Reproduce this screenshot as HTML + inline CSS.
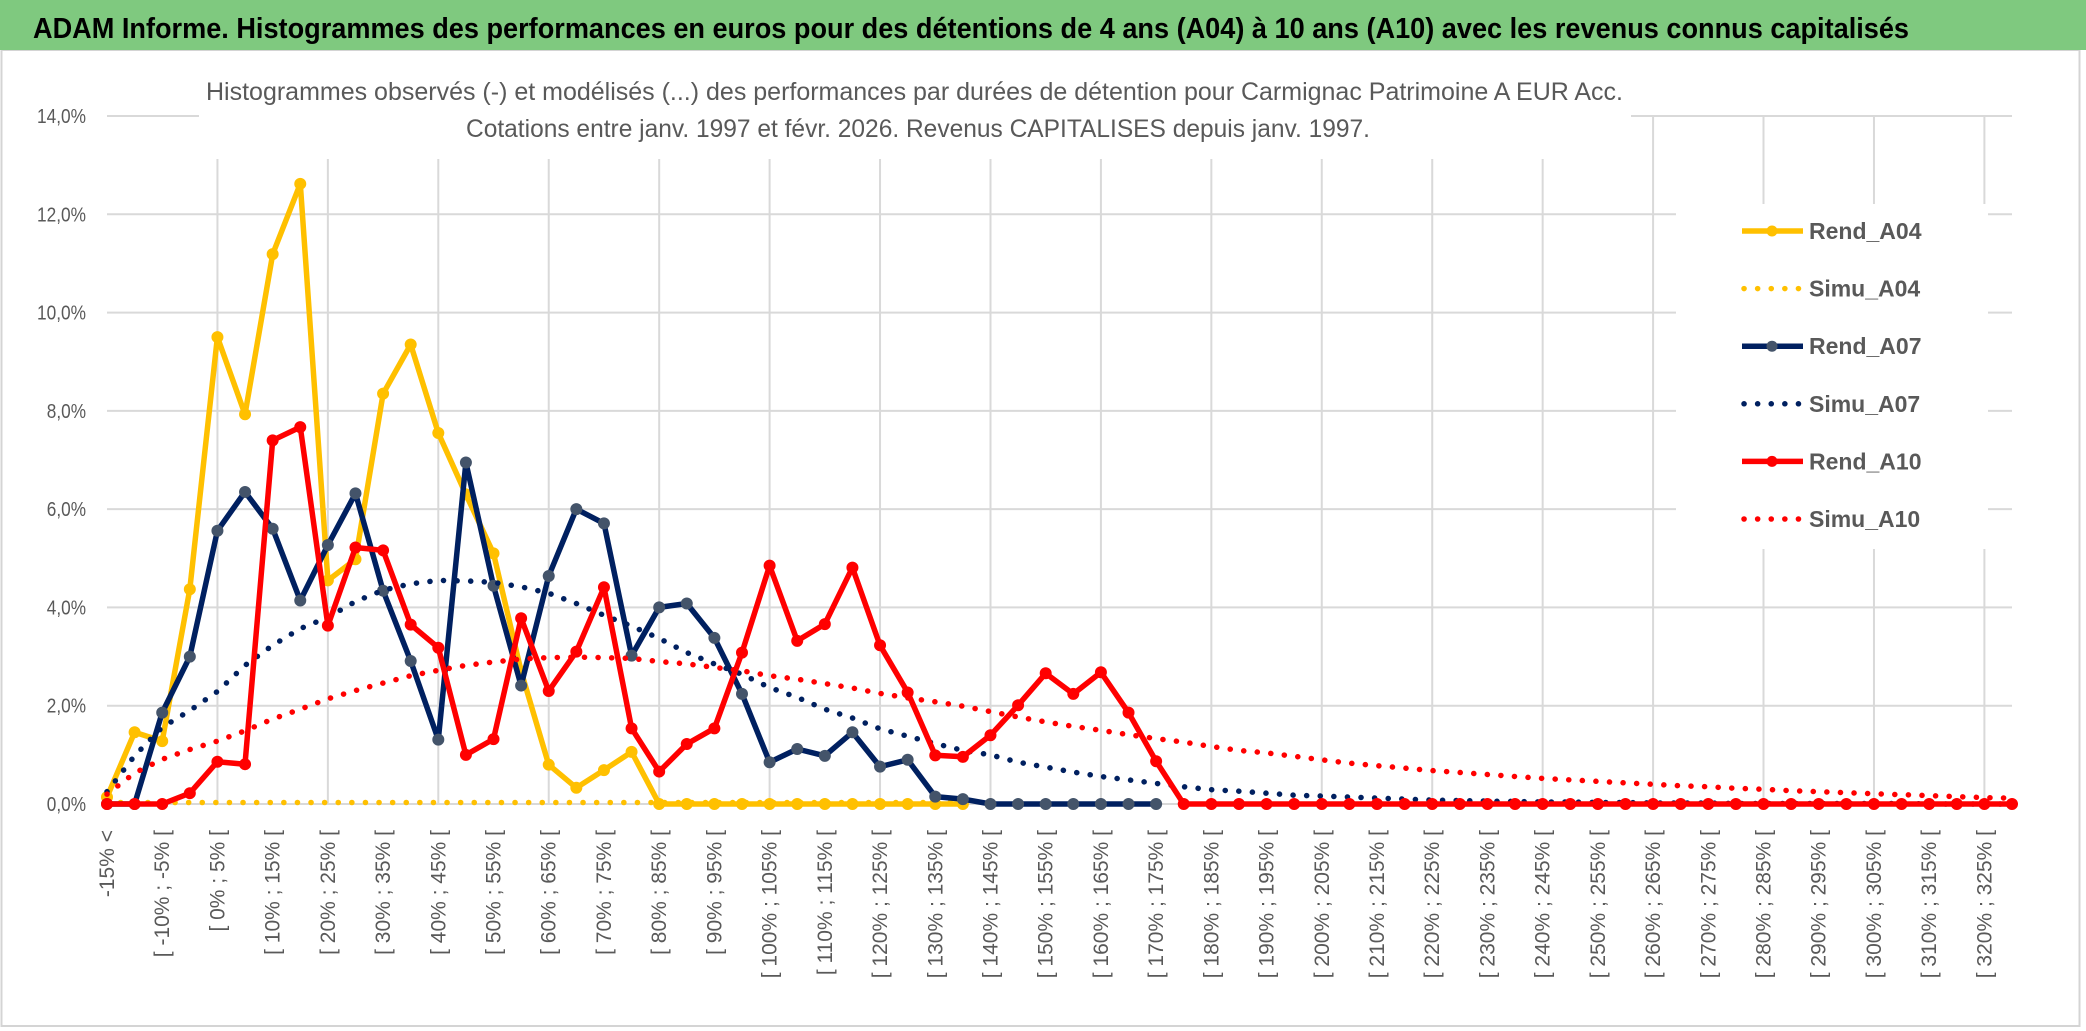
<!DOCTYPE html>
<html><head><meta charset="utf-8"><style>
html,body{margin:0;padding:0;background:#fff;}
svg{display:block;font-family:"Liberation Sans",sans-serif;}
</style></head>
<body>
<svg id="chart" width="2086" height="1031" viewBox="0 0 2086 1031" xmlns="http://www.w3.org/2000/svg">
  <rect x="0" y="0" width="2086" height="1031" fill="#ffffff"/>
  <rect x="1.5" y="50" width="2078" height="976" fill="#ffffff" stroke="#d4d4d4" stroke-width="2"/>
  <rect x="0" y="0" width="2086" height="50" fill="#7fc97f"/>
  <text x="33" y="38" font-size="29" font-weight="bold" fill="#000" textLength="1876" lengthAdjust="spacingAndGlyphs">ADAM Informe. Histogrammes des performances en euros pour des détentions de 4 ans (A04) à 10 ans (A10) avec les revenus connus capitalisés</text>
  <g id="grid"></g>
  <rect x="199" y="60" width="1432" height="99" fill="#ffffff"/>
  <text x="206" y="100" font-size="25" fill="#595959" textLength="1417" lengthAdjust="spacingAndGlyphs">Histogrammes observés (-) et modélisés (...) des performances par durées de détention pour Carmignac Patrimoine A EUR Acc.</text>
  <text x="466" y="137" font-size="25" fill="#595959" textLength="904" lengthAdjust="spacingAndGlyphs">Cotations entre janv. 1997 et févr. 2026. Revenus CAPITALISES depuis janv. 1997.</text>
  <g id="yaxis"></g>
  <g id="xaxis"></g>
  <g id="series"></g>
  <g id="legend"></g>
</svg>
<script>
const yTicks = [0, 2, 4, 6, 8, 10, 12, 14];
const yTickLabels = ["0,0%", "2,0%", "4,0%", "6,0%", "8,0%", "10,0%", "12,0%", "14,0%"];
const binLows = [];
for (let lo = -15; lo <= 325; lo += 5) binLows.push(lo);
const categories = ["-15% <"].concat(binLows.map(lo => "[ " + lo + "% ; " + (lo + 5) + "% ["));

const rendA04 = [0.14,1.46,1.28,4.37,9.5,7.93,11.19,12.62,4.55,4.98,8.35,9.35,7.55,6.3,5.1,2.7,0.8,0.33,0.69,1.06,0,0,0,0,0,0,0,0,0,0,0,0];
const simuA04 = [0.03,0.03,0.03,0.03,0.03,0.03,0.03,0.03,0.03,0.03,0.03,0.03,0.03,0.03,0.03,0.03,0.03,0.03,0.03,0.03,0.03,0.03,0.03,0.03,0.03,0.03,0.03,0.03,0.03,0.03,0.03,0.03];
const rendA07 = [0,0,1.86,3.0,5.56,6.35,5.6,4.14,5.27,6.32,4.34,2.91,1.31,6.95,4.44,2.41,4.64,6.0,5.71,3.02,4.0,4.08,3.38,2.24,0.85,1.12,0.98,1.46,0.76,0.9,0.15,0.1,0,0,0,0,0,0,0];
const simuA07 = [0.25,0.98,1.56,1.9,2.29,2.82,3.23,3.57,3.8,4.12,
 4.35,4.48,4.55,4.54,4.51,4.42,4.29,4.08,3.84,3.62,
 3.37,3.08,2.85,2.64,2.37,2.17,1.93,1.75,1.53,1.38,
 1.23,1.09,1.0,0.85,0.75,0.65,0.56,0.49,0.42,0.35,
 0.29,0.26,0.22,0.18,0.16,0.14,0.12,0.1,0.08,0.07,
 0.06,0.05,0.04,0.04,0.03,0.03,0.02,0.02,0.02,0.01,
 0.01,0.01,0.01,0.01,0.01,0.01,0,0,0,0];
const rendA10 = [0,0,0,0.22,0.86,0.81,7.4,7.67,3.63,5.22,
 5.16,3.65,3.18,1.0,1.32,3.78,2.3,3.1,4.41,1.54,
 0.66,1.22,1.54,3.08,4.85,3.32,3.66,4.81,3.23,2.27,
 0.99,0.96,1.4,2.01,2.66,2.24,2.68,1.86,0.87,0,
 0,0,0,0,0,0,0,0,0,0,
 0,0,0,0,0,0,0,0,0,0,
 0,0,0,0,0,0,0,0,0,0];
const simuA10 = [0.2,0.63,0.91,1.11,1.28,1.49,1.73,1.93,2.14,2.31,
 2.46,2.61,2.72,2.82,2.89,2.95,2.98,2.99,2.98,2.96,
 2.9,2.85,2.78,2.71,2.61,2.54,2.45,2.36,2.25,2.16,
 2.08,1.99,1.88,1.77,1.67,1.58,1.5,1.41,1.33,1.26,
 1.17,1.09,1.04,0.97,0.9,0.83,0.78,0.73,0.68,0.64,
 0.6,0.56,0.52,0.49,0.46,0.43,0.4,0.37,0.35,0.32,
 0.3,0.27,0.25,0.23,0.21,0.19,0.17,0.15,0.13,0.12];
const seriesNames = ["Rend_A04", "Simu_A04", "Rend_A07", "Simu_A07", "Rend_A10", "Simu_A10"];

const NS = "http://www.w3.org/2000/svg";
const X0 = 107, X1 = 2012, Y0 = 804, YTOP = 116, YMAX = 14;
const n = categories.length;
const xAt = i => X0 + (X1 - X0) * i / (n - 1);
const yAt = v => Y0 - (Y0 - YTOP) * v / YMAX;
function mk(tag, parent, attrs) {
  const e = document.createElementNS(NS, tag);
  for (const k in attrs) e.setAttribute(k, attrs[k]);
  parent.appendChild(e);
  return e;
}
const grid = document.getElementById('grid');
yTicks.forEach((t, k) => {
  const l = mk('line', grid, {x1: X0, x2: X1, y1: yAt(t), y2: yAt(t), stroke: '#d9d9d9', 'stroke-width': 2});
  
  
});
for (let i = 4; i < n; i += 4) {
  const l = mk('line', grid, {x1: xAt(i), x2: xAt(i), y1: YTOP, y2: Y0, stroke: '#d9d9d9', 'stroke-width': 2});
  
  
}
const yaxis = document.getElementById('yaxis');
yTicks.forEach((t, k) => {
  const tx = mk('text', yaxis, {x: 86, y: yAt(t) + 7, 'text-anchor': 'end', 'font-size': 20, fill: '#595959', textLength: yTickLabels[k].length * 9.8, lengthAdjust: 'spacingAndGlyphs'});
  tx.textContent = yTickLabels[k];
  
  
});
const xaxis = document.getElementById('xaxis');
for (let i = 0; i < n; i += 2) {
  const x = xAt(i);
  const tx = mk('text', xaxis, {x: 0, y: 0, 'text-anchor': 'end', 'font-size': 21, fill: '#595959', transform: `translate(${x + 7},830) rotate(-90)`});
  tx.textContent = categories[i];
  
  
}
const layer = document.getElementById('series');
function pathFor(arr) {
  let d = '';
  arr.forEach((v, i) => { if (v !== null && v !== undefined) d += (d ? 'L' : 'M') + xAt(i).toFixed(1) + ',' + yAt(v).toFixed(1); });
  return d;
}
function solid(arr, color, mcolor, name) {
  const g = mk('g', layer, {});
  
  
  const p = mk('path', g, {d: pathFor(arr), fill: 'none', stroke: color, 'stroke-width': 5.5, 'stroke-linejoin': 'round'});
  
  
  arr.forEach((v, i) => {
    const c = mk('circle', g, {cx: xAt(i), cy: yAt(v), r: 5.5, fill: mcolor, stroke: mcolor, 'stroke-width': 1});
    
    
  });
}
function dotted(arr, color, name) {
  const p = mk('path', layer, {d: pathFor(arr), fill: 'none', stroke: color, 'stroke-width': 5.5, 'stroke-linecap': 'round', 'stroke-dasharray': '0.1 13.5'});
  
  
}
solid(rendA04, '#ffc000', '#ffc000', 'rend-a04');
dotted(simuA04, '#ffc000', 'simu-a04');
solid(rendA07, '#002060', '#44546a', 'rend-a07');
dotted(simuA07, '#002060', 'simu-a07');
solid(rendA10, '#ff0000', '#ff0000', 'rend-a10');
dotted(simuA10, '#ff0000', 'simu-a10');

const legend = document.getElementById('legend');
const lb = mk('rect', legend, {x: 1676, y: 204, width: 312, height: 345, fill: '#ffffff'});


const legStyles = [['#ffc000', '#ffc000', false], ['#ffc000', null, true], ['#002060', '#44546a', false], ['#002060', null, true], ['#ff0000', '#ff0000', false], ['#ff0000', null, true]];
seriesNames.forEach((nm, k) => {
  const y = 231 + k * 57.6;
  const g = mk('g', legend, {});
  
  
  const [col, mcol, dot] = legStyles[k];
  if (dot) {
    mk('line', g, {x1: 1744, x2: 1803, y1: y, y2: y, stroke: col, 'stroke-width': 5.5, 'stroke-linecap': 'round', 'stroke-dasharray': '0.1 13.5'});
  } else {
    mk('line', g, {x1: 1742, x2: 1803, y1: y, y2: y, stroke: col, 'stroke-width': 5.5});
    mk('circle', g, {cx: 1772, cy: y, r: 5.5, fill: mcol});
  }
  const t = mk('text', g, {x: 1809, y: y + 8, 'font-size': 23, 'font-weight': 'bold', fill: '#595959'});
  t.textContent = nm;
});
</script>
</body></html>
